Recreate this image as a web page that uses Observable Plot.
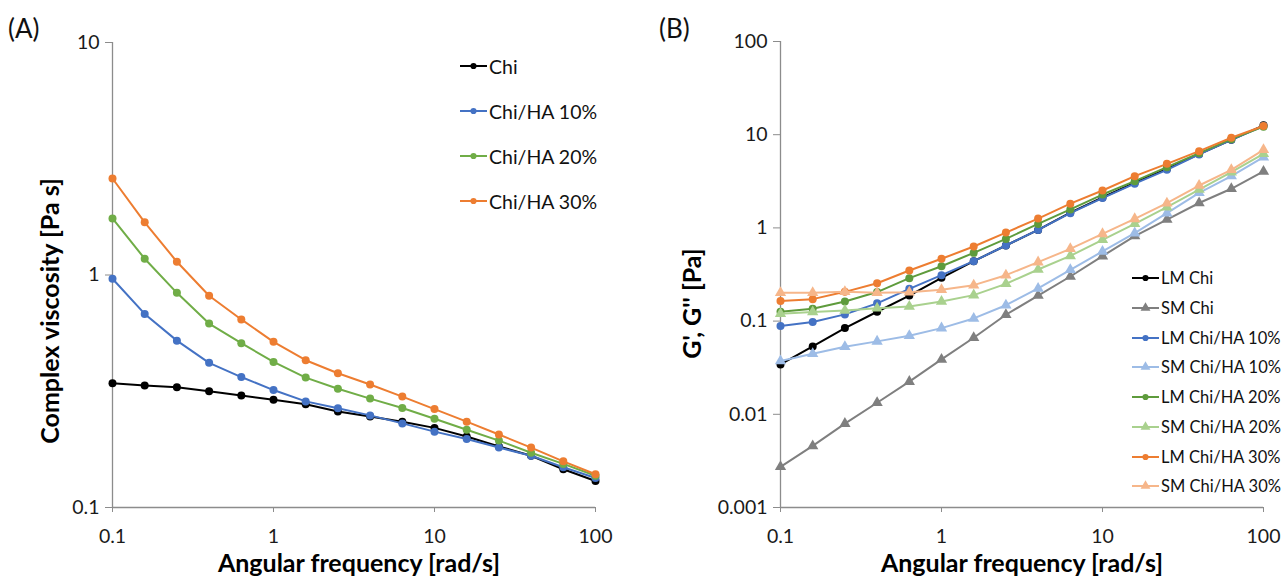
<!DOCTYPE html>
<html><head><meta charset="utf-8">
<script src="https://cdn.jsdelivr.net/npm/d3@7"></script>
<script src="https://cdn.jsdelivr.net/npm/@observablehq/plot@0.6"></script>
<style>
  body { margin: 0; background: #fff; font-family: Lato, "Open Sans", sans-serif; }
  #wrap { position: relative; width: 1285px; height: 581px; overflow: hidden; }
  .panel { position: absolute; top: 0; }
  .tag { position: absolute; font-size: 26px; color: #111; }
  .leg { position: absolute; display: flex; align-items: center; color: #111; white-space: nowrap; }
</style>
</head><body><div id="wrap"></div>
<script>
// ---------- data ----------
const freq = [0.1, 0.1585, 0.2512, 0.3981, 0.631, 1, 1.585, 2.512, 3.981, 6.31, 10, 15.85, 25.12, 39.81, 63.1, 100];

// Panel A: complex viscosity [Pa s]
const namesA = ["Chi", "Chi/HA 10%", "Chi/HA 20%", "Chi/HA 30%"];
const etaChi   = [0.342, 0.335, 0.329, 0.316, 0.303, 0.291, 0.278, 0.259, 0.246, 0.234, 0.220, 0.202, 0.183, 0.167, 0.146, 0.130];
const etaHA10  = [0.964, 0.680, 0.522, 0.419, 0.364, 0.320, 0.286, 0.267, 0.249, 0.230, 0.212, 0.197, 0.181, 0.167, 0.149, 0.134];
const etaHA20  = [1.75, 1.175, 0.838, 0.618, 0.509, 0.423, 0.362, 0.324, 0.294, 0.268, 0.241, 0.216, 0.194, 0.172, 0.154, 0.137];
const etaHA30  = [2.60, 1.685, 1.14, 0.814, 0.644, 0.516, 0.430, 0.378, 0.338, 0.300, 0.265, 0.234, 0.206, 0.181, 0.158, 0.139];

// Panel B: G', G'' [Pa]
const namesB = ["LM Chi", "SM Chi", "LM Chi/HA 10%", "SM Chi/HA 10%", "LM Chi/HA 20%", "SM Chi/HA 20%", "LM Chi/HA 30%", "SM Chi/HA 30%"];
const gLMChi   = [0.0343, 0.0535, 0.0841, 0.126, 0.188, 0.291, 0.44, 0.647, 0.952, 1.46, 2.12, 3.05, 4.3, 6.2, 8.8, 12.6];
const gSMChi   = [0.00273, 0.00458, 0.00794, 0.0133, 0.0224, 0.0388, 0.0663, 0.117, 0.188, 0.301, 0.498, 0.817, 1.23, 1.85, 2.63, 4.03];
const gLMHA10  = [0.0884, 0.0976, 0.118, 0.155, 0.222, 0.311, 0.44, 0.647, 0.952, 1.44, 2.09, 2.98, 4.2, 6.14, 8.81, 12.4];
const gSMHA10  = [0.0373, 0.0447, 0.0531, 0.0606, 0.0696, 0.0841, 0.1068, 0.148, 0.224, 0.355, 0.559, 0.879, 1.44, 2.38, 3.6, 5.74];
const gLMHA20  = [0.126, 0.1355, 0.1625, 0.205, 0.289, 0.388, 0.54, 0.762, 1.104, 1.58, 2.28, 3.17, 4.48, 6.34, 8.95, 12.2];
const gSMHA20  = [0.12, 0.125, 0.13, 0.137, 0.1436, 0.1625, 0.19, 0.251, 0.358, 0.501, 0.745, 1.107, 1.67, 2.58, 3.96, 6.24];
const gLMHA30  = [0.164, 0.172, 0.206, 0.255, 0.349, 0.466, 0.631, 0.891, 1.26, 1.82, 2.52, 3.59, 4.87, 6.66, 9.27, 12.4];
const gSMHA30  = [0.201, 0.201, 0.206, 0.201, 0.204, 0.217, 0.243, 0.311, 0.429, 0.596, 0.863, 1.25, 1.84, 2.85, 4.2, 6.89];

const xTicks  = [0.1, 1, 10, 100];
const yTicksA = [0.1, 1, 10];
const yTicksB = [0.001, 0.01, 0.1, 1, 10, 100];

// ---------- styles ----------
const colorsA = ["#000000", "#4472C4", "#70AD47", "#ED7D31"];
const colorsB = ["#000000", "#7F7F7F", "#4472C4", "#9DBCE6", "#5E9B3C", "#A9D18E", "#ED7D31", "#F6B68A"];
const symbolsB = ["circle", "triangle", "circle", "triangle", "circle", "triangle", "circle", "triangle"];
const axisGray = "#8C8C8C";
const txt = "#1a1a1a";

const valsA = [etaChi, etaHA10, etaHA20, etaHA30];
const valsB = [gLMChi, gSMChi, gLMHA10, gSMHA10, gLMHA20, gSMHA20, gLMHA30, gSMHA30];
const rowsA = namesA.flatMap((n, k) => freq.map((f, i) => ({f, v: valsA[k][i], name: n})));
const rowsB = namesB.flatMap((n, k) => freq.map((f, i) => ({f, v: valsB[k][i], name: n})));

const fmt = d => String(d);
const wrap = document.getElementById("wrap");

function seriesMarks(rows, names, colors, symbols) {
  const marks = [];
  names.forEach((n, k) => {
    const data = rows.filter(r => r.name === n);
    marks.push(Plot.line(data, {x: "f", y: "v", stroke: colors[k], strokeWidth: 2}));
    marks.push(Plot.dot(data, {x: "f", y: "v", fill: colors[k], r: symbols[k] === "triangle" ? 4.2 : 4, symbol: symbols[k]}));
  });
  return marks;
}

const titleStyle = {fontSize: 25, fontWeight: "bold", fill: "#000", textAnchor: "middle", lineAnchor: "middle"};

// ---------- Panel A ----------
const plotA = Plot.plot({
  width: 640, height: 581,
  marginLeft: 112, marginRight: 45, marginTop: 42, marginBottom: 74,
  style: {fontFamily: "Lato, sans-serif", fontSize: "19.5px", color: txt, background: "transparent", overflow: "visible"},
  x: {type: "log", domain: [0.1, 100]},
  y: {type: "log", domain: [0.1, 10]},
  marks: [
    Plot.ruleX([0.1], {stroke: axisGray, strokeWidth: 1.3}),
    Plot.ruleY([0.1], {stroke: axisGray, strokeWidth: 1.3}),
    Plot.axisX({ticks: xTicks, tickFormat: fmt, tickSize: 5, tickPadding: 17, stroke: axisGray, fill: txt, label: null}),
    Plot.axisY({ticks: yTicksA, tickFormat: fmt, tickSize: 7, tickPadding: 6, stroke: axisGray, fill: txt, label: null}),
    ...seriesMarks(rowsA, namesA, colorsA, namesA.map(() => "circle")),
    Plot.text(["Angular frequency [rad/s]"], {frameAnchor: "bottom", dy: 56, dx: 5, ...titleStyle}),
    Plot.text(["Complex viscosity [Pa s]"], {frameAnchor: "left", dx: -62, dy: 36, rotate: -90, ...titleStyle})
  ]
});
plotA.classList.add("panel");
plotA.style.left = "0px";
wrap.appendChild(plotA);

// ---------- Panel B ----------
const plotB = Plot.plot({
  width: 645, height: 581,
  marginLeft: 140, marginRight: 22, marginTop: 41, marginBottom: 74,
  style: {fontFamily: "Lato, sans-serif", fontSize: "19.5px", color: txt, background: "transparent", overflow: "visible"},
  x: {type: "log", domain: [0.1, 100]},
  y: {type: "log", domain: [0.001, 100]},
  marks: [
    Plot.ruleX([0.1], {stroke: axisGray, strokeWidth: 1.3}),
    Plot.ruleY([0.001], {stroke: axisGray, strokeWidth: 1.3}),
    Plot.axisX({ticks: xTicks, tickFormat: fmt, tickSize: 5, tickPadding: 17, stroke: axisGray, fill: txt, label: null}),
    Plot.axisY({ticks: yTicksB, tickFormat: fmt, tickSize: 7, tickPadding: 6, stroke: axisGray, fill: txt, label: null}),
    ...seriesMarks(rowsB, namesB, colorsB, symbolsB),
    Plot.text(["Angular frequency [rad/s]"], {frameAnchor: "bottom", dy: 56, ...titleStyle}),
    Plot.text(["G', G'' [Pa]"], {frameAnchor: "left", dx: -88, dy: 29, rotate: -90, ...titleStyle})
  ]
});
plotB.classList.add("panel");
plotB.style.left = "640px";
wrap.appendChild(plotB);

// ---------- panel tags ----------
[["(A)", 8, 12], ["(B)", 659, 12]].forEach(([t, x, y]) => {
  const d = document.createElement("div");
  d.className = "tag"; d.textContent = t;
  d.style.left = x + "px"; d.style.top = y + "px";
  wrap.appendChild(d);
});

// ---------- legends ----------
function legend(names, colors, symbols, x0, y0, dy, fontSize) {
  names.forEach((n, k) => {
    const row = document.createElement("div");
    row.className = "leg";
    row.style.left = x0 + "px";
    row.style.top = (y0 + k * dy - 12) + "px";
    row.style.height = "24px";
    row.style.fontSize = fontSize + "px";
    const svg = d3.create("svg").attr("width", 29).attr("height", 24).style("flex", "none");
    svg.append("line").attr("x1", 0).attr("x2", 27).attr("y1", 12).attr("y2", 12).attr("stroke", colors[k]).attr("stroke-width", 2);
    const sym = symbols[k] === "triangle" ? d3.symbolTriangle : d3.symbolCircle;
    const size = symbols[k] === "triangle" ? 42 : 30;
    svg.append("path").attr("d", d3.symbol(sym, size)()).attr("transform", "translate(13.5,12)").attr("fill", colors[k]);
    row.appendChild(svg.node());
    const s = document.createElement("span");
    s.textContent = n;
    row.appendChild(s);
    wrap.appendChild(row);
  });
}
legend(namesA, colorsA, namesA.map(() => "circle"), 460, 66, 45, 19.5);
legend(namesB, colorsB, symbolsB, 1132, 278, 29.75, 16.5);
</script>
</body></html>
